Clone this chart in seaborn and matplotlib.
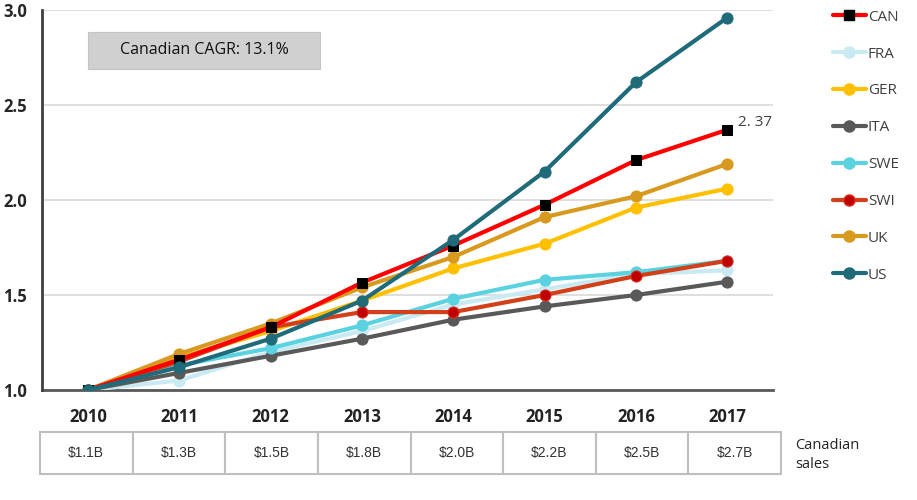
import matplotlib
matplotlib.use('Agg')
import matplotlib.pyplot as plt
from matplotlib.lines import Line2D
from matplotlib.patches import Rectangle
import seaborn as sns
import pandas as pd

years = ['2010', '2011', '2012', '2013', '2014', '2015', '2016', '2017']
sales = ['$1.1B', '$1.3B', '$1.5B', '$1.8B', '$2.0B', '$2.2B', '$2.5B', '$2.7B']

can = [1.00, 1.16, 1.33, 1.565, 1.76, 1.975, 2.21, 2.37]
fra = [1.00, 1.05, 1.20, 1.31, 1.45, 1.53, 1.61, 1.63]
ger = [1.00, 1.17, 1.31, 1.47, 1.64, 1.77, 1.96, 2.06]
ita = [1.00, 1.09, 1.18, 1.27, 1.37, 1.44, 1.50, 1.57]
swe = [1.00, 1.13, 1.22, 1.34, 1.48, 1.58, 1.62, 1.68]
swi = [1.00, 1.15, 1.33, 1.41, 1.41, 1.50, 1.60, 1.68]
uk = [1.00, 1.19, 1.35, 1.54, 1.70, 1.91, 2.02, 2.19]
us = [1.00, 1.12, 1.27, 1.47, 1.79, 2.15, 2.62, 2.96]

countries = ['CAN', 'FRA', 'GER', 'ITA', 'SWE', 'SWI', 'UK', 'US']
series = [can, fra, ger, ita, swe, swi, uk, us]
colors = ['#FF0000', '#C9EAF3', '#FFC000', '#595959', '#5AD2E0', '#D2401A', '#D89A1E', '#1F6B7A']

rows = []
for c, vals in zip(countries, series):
    for i, v in enumerate(vals):
        rows.append({'country': c, 'pos': i, 'value': v})
df = pd.DataFrame(rows)

sns.set_style('white')
plt.rcParams['font.family'] = ['Open Sans', 'DejaVu Sans']

fig = plt.figure(figsize=(9.17, 5), dpi=100)
ax = fig.add_axes([0.046, 0.22, 0.797, 0.76])

# lighter lines first, US and CAN on top
order = ['FRA', 'ITA', 'SWE', 'GER', 'SWI', 'UK', 'CAN', 'US']
for c in order:
    i = countries.index(c)
    sub = df[df.country == c]
    if c == 'CAN':
        sns.lineplot(data=sub, x='pos', y='value', color=colors[i], linewidth=3,
                     marker='s', markersize=7, markerfacecolor='black',
                     markeredgecolor='black', ax=ax, zorder=5)
    elif c == 'SWI':
        sns.lineplot(data=sub, x='pos', y='value', color=colors[i], linewidth=3,
                     marker='o', markersize=8, markerfacecolor='#C00000',
                     markeredgecolor='#E03020', ax=ax, zorder=4)
    else:
        sns.lineplot(data=sub, x='pos', y='value', color=colors[i], linewidth=3,
                     marker='o', markersize=8, markeredgecolor=colors[i], ax=ax,
                     zorder=6 if c == 'US' else 3)

ax.set_xlim(-0.5, 7.5)
ax.set_ylim(1.0, 3.0)
ax.set_yticks([1.0, 1.5, 2.0, 2.5, 3.0])
ax.set_yticklabels(['1.0', '1.5', '2.0', '2.5', '3.0'], fontsize=12, fontweight='bold')
ax.yaxis.grid(True, color='#D9D9D9', linewidth=1.2)
ax.set_axisbelow(True)
ax.set_xticks(range(8))
ax.set_xticklabels(years, fontsize=12, fontweight='bold', color='#222222')
ax.set_xticks([x - 0.5 for x in range(9)], minor=True)
ax.tick_params(axis='x', which='major', length=0, pad=13)
ax.tick_params(axis='x', which='minor', direction='in', length=5, width=1.2, color='#595959')
ax.tick_params(axis='y', length=0, pad=11)
ax.set_xlabel('')
ax.set_ylabel('')
for s in ['top', 'right']:
    ax.spines[s].set_visible(False)
ax.spines['left'].set_color('#404040')
ax.spines['left'].set_linewidth(2)
ax.spines['bottom'].set_color('#595959')
ax.spines['bottom'].set_linewidth(2)
ax.spines['left'].set_zorder(10)

ax.text(7.12, can[-1], '2. 37', fontsize=11, color='#404040', va='bottom', ha='left')

ax.add_patch(Rectangle((0.0, 2.69), 2.54, 0.195, facecolor='#D0D0D0', edgecolor='#C4C4C4',
                       linewidth=0.8, zorder=2))
ax.text(1.27, 2.787, 'Canadian CAGR: 13.1%', fontsize=11.5, color='#111111',
        ha='center', va='center', zorder=3)

handles = []
for i, c in enumerate(countries):
    if c == 'CAN':
        h = Line2D([], [], color=colors[i], lw=3, marker='s', markersize=7,
                   markerfacecolor='black', markeredgecolor='black')
    elif c == 'SWI':
        h = Line2D([], [], color=colors[i], lw=3, marker='o', markersize=8,
                   markerfacecolor='#C00000', markeredgecolor='#E03020')
    else:
        h = Line2D([], [], color=colors[i], lw=3, marker='o', markersize=8,
                   markeredgecolor=colors[i])
    handles.append(h)
fig.legend(handles, countries, loc='upper left', bbox_to_anchor=(0.893, 1.008), frameon=False,
           fontsize=11, labelspacing=1.43, handlelength=2.2, handletextpad=0.1,
           labelcolor='#404040')

tbl = ax.table(cellText=[sales], cellLoc='center', bbox=[-0.003, -0.221, 1.014, 0.11])
tbl.auto_set_font_size(False)
for (r, cc), cell in tbl.get_celld().items():
    cell.set_edgecolor('#BFBFBF')
    cell.set_linewidth(1.5)
    cell.get_text().set_fontsize(10)
    cell.get_text().set_fontfamily('Liberation Sans')
    cell.get_text().set_color('#333333')

fig.text(0.867, 0.09, 'Canadian\nsales', fontsize=10.5, color='#222222', va='center', ha='left',
         linespacing=1.4)

fig.savefig('out.png', dpi=100)
